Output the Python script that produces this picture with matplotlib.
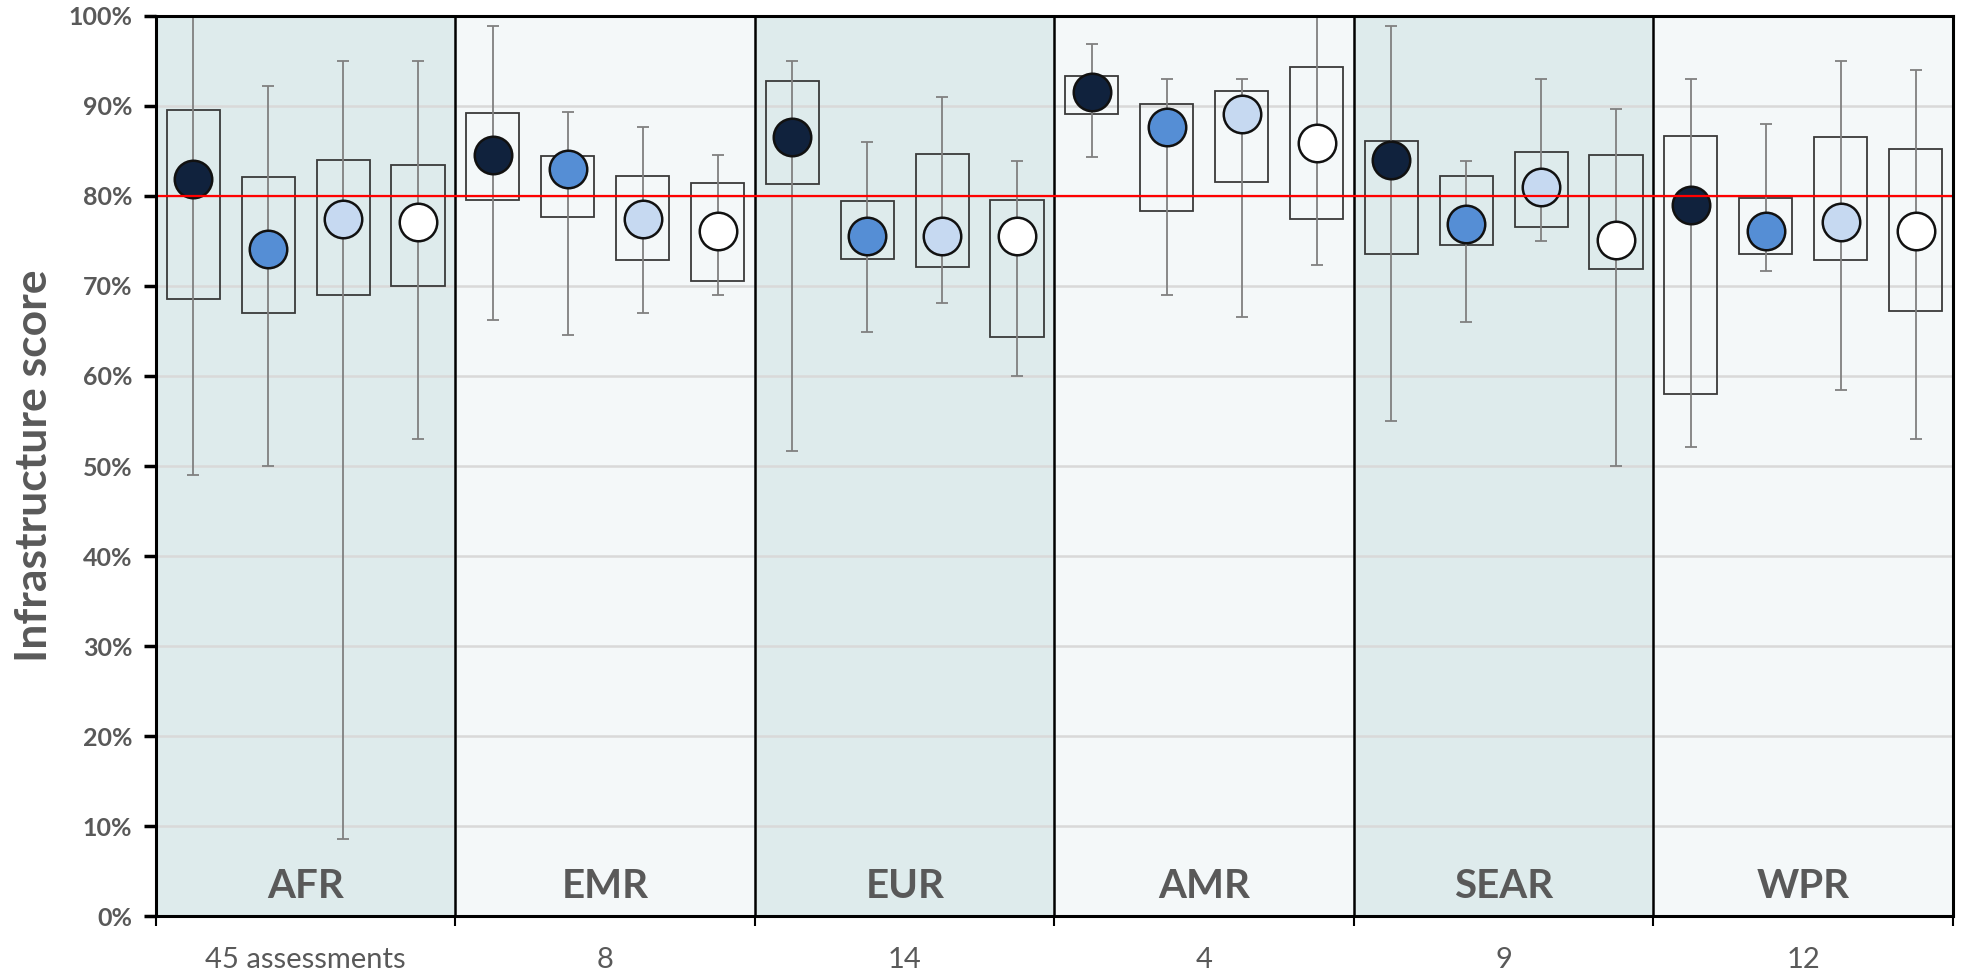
import matplotlib
matplotlib.use('Agg')
import matplotlib.pyplot as plt
from matplotlib.ticker import PercentFormatter
import numpy as np

plt.rcParams['font.family'] = ['Lato', 'DejaVu Sans']

regions = ['AFR', 'EMR', 'EUR', 'AMR', 'SEAR', 'WPR']
counts = ['45 assessments', '8', '14', '4', '9', '12']

# one row per region, one column per series (dark, mid, light, white)
centre = [[81.9, 74.1, 77.4, 77.1],
          [84.6, 83.0, 77.4, 76.1],
          [86.6, 75.6, 75.6, 75.6],
          [91.5, 87.7, 89.1, 85.9],
          [84.0, 76.9, 81.0, 75.1],
          [79.0, 76.1, 77.1, 76.1]]
box_hi = [[89.5, 82.1, 84.0, 83.4],
          [89.2, 84.4, 82.2, 81.4],
          [92.8, 79.4, 84.7, 79.6],
          [93.3, 90.2, 91.7, 94.3],
          [86.1, 82.2, 84.9, 84.6],
          [86.7, 79.8, 86.5, 85.2]]
box_lo = [[68.6, 67.0, 69.0, 70.0],
          [79.6, 77.7, 72.9, 70.6],
          [81.3, 73.0, 72.1, 64.3],
          [89.1, 78.3, 81.6, 77.4],
          [73.5, 74.5, 76.5, 71.9],
          [58.0, 73.5, 72.9, 67.2]]
whisk_hi = [[100.0, 92.2, 95.0, 95.0],
            [98.9, 89.3, 87.7, 84.6],
            [95.0, 86.0, 91.0, 83.9],
            [96.9, 93.0, 93.0, 100.0],
            [98.9, 83.9, 93.0, 89.7],
            [93.0, 88.0, 95.0, 94.0]]
whisk_lo = [[49.0, 50.0, 8.6, 53.0],
            [66.2, 64.6, 67.0, 69.0],
            [51.7, 64.9, 68.1, 60.0],
            [84.3, 69.0, 66.6, 72.3],
            [55.0, 66.0, 75.0, 50.0],
            [52.1, 71.7, 58.4, 53.0]]
target = 80

series_colors = ['#10223d', '#558ed5', '#c6d9f1', '#ffffff']
bg_colors = ['#deebec', '#f4f8f9']
txt = '#595959'

centre = np.array(centre)
box_hi = np.array(box_hi)
box_lo = np.array(box_lo)
whisk_hi = np.array(whisk_hi)
whisk_lo = np.array(whisk_lo)
nreg, nser = centre.shape

fig = plt.figure(figsize=(19.62, 9.75), dpi=100)
ax = fig.add_axes([0.0795, 0.0605, 0.9159, 0.9231])

for r in range(nreg):
    ax.axvspan(r * nser, (r + 1) * nser, color=bg_colors[r % 2], zorder=0, lw=0)
    ax.text(r * nser + nser / 2, 3.3, regions[r], ha='center', va='center',
            fontsize=29, fontweight='bold', color=txt, zorder=6)

for y in range(10, 101, 10):
    ax.axhline(y, color='#d9d9d9', lw=1.8, zorder=1)

for j in range(nser):
    x = np.arange(nreg) * nser + j + 0.5
    ax.bar(x, box_hi[:, j] - box_lo[:, j], bottom=box_lo[:, j], width=0.71,
           fill=False, edgecolor='#3a3a3a', lw=1.3, zorder=3)
    ax.errorbar(x, centre[:, j], yerr=[centre[:, j] - whisk_lo[:, j], whisk_hi[:, j] - centre[:, j]],
                fmt='none', ecolor='#808080', elinewidth=1.3, capsize=4, capthick=1.3, zorder=4)
    ax.plot(x, centre[:, j], 'o', ms=27, mfc=series_colors[j], mec='#111111', mew=1.8,
            zorder=5, linestyle='none')

ax.axhline(target, color='#ff0000', lw=1.6, zorder=7)

for r in range(1, nreg):
    ax.axvline(r * nser, color='black', lw=1.8, zorder=6)

ax.set_xlim(0, nreg * nser)
ax.set_ylim(0, 100)
ax.set_yticks(range(0, 101, 10))
ax.yaxis.set_major_formatter(PercentFormatter(decimals=0))
ax.set_xticks(np.arange(0, nreg * nser + 1, nser))
ax.set_xticklabels([])
ax.set_xticks(np.arange(nreg) * nser + nser / 2, minor=True)
ax.set_xticklabels(counts, minor=True)
ax.tick_params(axis='x', which='minor', length=0, pad=22, labelsize=21, labelcolor=txt)
ax.tick_params(axis='x', which='major', length=7, width=1.5, direction='out')
ax.tick_params(axis='y', length=9, width=2.5, direction='out', pad=8,
               labelsize=18, labelcolor=txt)
for lab in ax.get_yticklabels():
    lab.set_fontweight('bold')

for s in ax.spines.values():
    s.set_linewidth(2.2)
    s.set_zorder(8)

ax.set_ylabel('Infrastructure score', fontsize=32, fontweight='bold', color=txt, labelpad=10)

fig.savefig('out.png', dpi=100)
